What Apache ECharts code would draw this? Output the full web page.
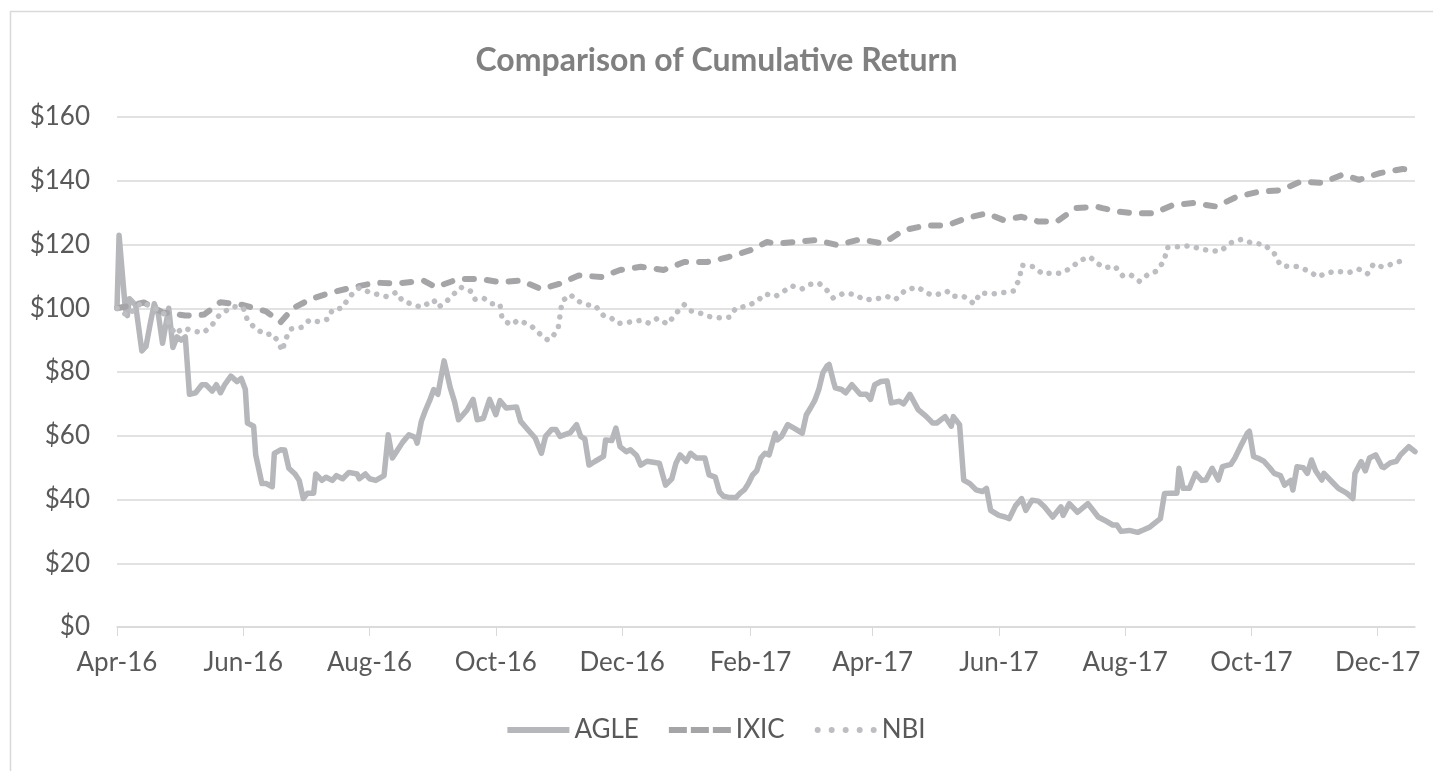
<!DOCTYPE html>
<html>
<head>
<meta charset="utf-8">
<title>Comparison of Cumulative Return</title>
<script src="https://cdn.jsdelivr.net/npm/echarts@6/dist/echarts.min.js"></script>
<style>
  html, body { margin: 0; padding: 0; background: #fff; }
  #main { width: 1433px; height: 771px; }
</style>
</head>
<body>
<div id="main"></div>
<script>
  // dates are kept as day counts after 1 Apr 2016
  const agleDay = [0,1,4,5,6,9,12,14,16,18,20,22,25,27,29,31,33,35,38,41,43,46,48,50,52,55,58,60,62,63,66,67,70,72,75,76,79,81,83,86,88,90,92,95,96,99,101,104,106,109,112,116,117,120,122,125,129,131,133,135,138,141,144,145,147,149,151,153,155,158,161,163,165,169,172,174,177,180,183,185,188,193,195,199,202,205,207,210,212,214,219,222,224,226,228,231,235,236,239,241,243,246,248,251,253,256,262,265,268,270,272,275,277,280,284,286,289,291,293,296,299,301,303,305,307,309,311,313,315,318,319,321,324,327,331,333,335,337,339,341,343,344,346,347,350,352,355,359,362,364,366,369,372,374,378,380,383,387,391,394,396,400,403,404,407,409,412,415,418,420,422,426,429,431,434,437,439,442,445,448,452,456,457,460,464,469,474,477,481,483,485,489,493,496,499,502,504,506,509,512,513,515,518,521,524,526,529,532,534,538,540,543,546,547,549,551,554,557,559,562,564,567,568,570,573,575,577,579,582,583,587,590,594,597,598,601,603,605,608,611,612,615,618,620,624,627];
  const agleVal = [100,122.9,100,97.7,103,101,86.6,88,95,101.4,98,89,100,87.7,91,90,91,73,73.5,76,76,74,76,73.5,76,78.7,77,78,74.5,64,63,54,45,45,44,54.5,55.6,55.5,49.8,48,46,40.3,42,42,48,46,47,46,47.5,46.5,48.5,48,46.5,48,46.5,46,47.5,60.3,53,55,58,60.3,59.5,57.7,64.5,68,71,74.5,73,83.5,75,70.8,65,68,71.4,65,65.5,71.4,66.6,71,68.7,69,64.5,61.5,59.3,54.5,59.8,62,62,59.8,61,63.5,59.8,59,50.8,52,53.5,58.7,58.5,62.4,56.6,55,55.6,53.8,50.8,52,51.4,44.5,46.5,51.4,54,52,54.5,53,53,47.7,47,42.4,41,40.6,40.6,42,43,45,47.7,49,53,54.5,54,60.8,58.7,59.8,63.5,62.4,60.8,66.6,68.7,71,74.5,79.8,81.9,82.4,77.2,75,74.5,73.5,76,73,73,71.4,76,77,77.2,70.3,70.8,70,73,68.2,66,64,64,66,63,66,63.5,46.1,45,43,42.5,43.5,36.6,35,34.5,34,38,40.3,36.6,39.8,39.5,37.7,34.5,37.7,35,38.7,36,38.7,34.5,33.5,32,32,30,30.3,29.7,30.5,31.4,33,34,41.9,42,42,49.8,43.5,43.5,48.2,46,46.1,49.8,46.1,50.3,51,53,57,60.8,61.4,53.5,53,52,49.8,48.2,47.5,44.5,46,43,50.3,50,48.2,52.4,49,46.1,48.2,45.5,43.5,42,40.3,48.2,51.9,49,53,54,50.3,50,51.5,52,54,56.6,55];

  const ixicDay = [0,6,13,22,33,42,50,61,72,79,85,94,104,114,125,136,148,154,165,175,185,195,205,214,223,234,243,253,264,274,285,295,306,314,318,328,338,348,359,370,380,391,401,410,420,428,437,445,454,463,473,476,484,491,501,510,520,531,541,552,562,572,582,592,600,610,621,627];
  const ixicVal = [100,100.8,101.8,98.7,97.7,98,101.9,101,99,95.6,100,103,105,106.6,108,107.8,108.7,106.6,109.2,109.2,108.2,108.7,106,107.7,110.3,109.8,112,113,112,114.5,114.5,116,118.2,120.8,120.3,120.8,121.4,119.8,121.6,120.3,124.5,126,126,128.2,129.8,127.7,128.7,127.2,127.2,131.4,131.9,131.4,130.3,129.8,129.8,132.4,133,131.9,135,136.6,137,139.8,139.3,141.9,140.3,142.4,143.7,143.3];

  const nbiDay = [0,5,12,18,22,28,32,38,42,46,49,54,57,61,63,67,72,75,77,80,81,84,89,93,97,102,104,109,112,117,122,126,130,135,138,142,147,153,155,158,162,166,171,173,177,181,185,186,190,194,200,204,207,209,213,214,215,219,222,227,231,235,239,242,247,253,257,261,266,270,274,277,282,286,292,296,299,304,309,313,318,322,326,331,335,339,343,346,351,356,361,366,372,376,381,387,391,395,401,403,409,414,417,423,428,433,436,437,443,447,451,456,461,465,470,473,477,482,486,490,494,498,502,506,507,513,518,524,529,533,538,543,549,554,559,562,566,570,576,580,584,589,595,600,604,607,611,615,621];
  const nbiVal = [100,97.7,101.9,100,99,91.9,93.8,92.7,92.4,94.8,97.5,99.8,100.5,100.1,96.3,93.5,91.7,92,90.3,86.6,89.8,93.5,94,96.3,95.8,96.6,99.5,100.1,103.5,106.4,105,104.3,103.7,105,102.2,101.4,100.3,102.6,100.3,101.4,104,106.6,105.3,102.8,103.2,101.4,101.2,96.8,94.8,96.3,94.5,92.1,90.3,90,93.3,97.7,102.2,104.3,102.4,101.1,100.8,97.7,96.8,95.2,95.6,96.2,95.3,96.8,95,98.4,101.1,99.2,98.4,97.4,96.9,97.2,100.1,100.6,102.1,104.5,103.7,105.3,107,106.1,107.5,107.9,105.6,103.2,104.7,104.4,102.7,102.8,103.7,102.7,105.8,106.6,104.7,104.1,105.3,103.8,103.7,101.4,104.8,104.5,104.9,105.4,109.3,113.5,113,110.8,111,111,112.7,115,116.1,114.3,112.7,113.2,110,110.3,108.4,110.6,111.6,115,119,119.3,119.6,118.5,118,117.9,120.5,121.6,120.3,120.1,117.2,113.5,113.1,113.1,111.6,109.8,111,111.6,111.2,112.2,110.8,113.9,113,113.7,115];

  // tick months, every two months
  const tickMonths = ['2016-04','2016-06','2016-08','2016-10','2016-12','2017-02','2017-04','2017-06','2017-08','2017-10','2017-12'];
  const monthNames = ['Jan','Feb','Mar','Apr','May','Jun','Jul','Aug','Sep','Oct','Nov','Dec'];

  function dayToTime(d) {
    return new Date(2016, 3, 1 + d).getTime();
  }
  function pairs(days, vals) {
    return days.map((d, i) => [dayToTime(d), vals[i]]);
  }
  const tickTimes = tickMonths.map(m => {
    const p = m.split('-');
    return new Date(+p[0], +p[1] - 1, 1).getTime();
  });

  const font = 'Lato, "Open Sans", sans-serif';

  // legend icons: solid bar, three dashes, five dots (62 x 6)
  const iconSolid = 'path://M0,0H62V6H0Z';
  const iconDash = 'path://M0,0H18V6H0Z M22,0H40V6H22Z M44,0H62V6H44Z';
  const iconDot = 'path://M0,3A3,3,0,1,0,6,3A3,3,0,1,0,0,3Z M14,3A3,3,0,1,0,20,3A3,3,0,1,0,14,3Z M28,3A3,3,0,1,0,34,3A3,3,0,1,0,28,3Z M42,3A3,3,0,1,0,48,3A3,3,0,1,0,42,3Z M56,3A3,3,0,1,0,62,3A3,3,0,1,0,56,3Z';

  let myChart = echarts.init(document.getElementById('main'));
  myChart.setOption({
    animation: false,
    backgroundColor: '#fff',
    title: {
      text: 'Comparison of Cumulative Return',
      left: 'center',
      top: 40,
      textStyle: { color: '#808080', fontSize: 32, fontWeight: 'bold', fontFamily: font }
    },
    grid: { left: 117, right: 18, top: 117, bottom: 144 },
    legend: {
      bottom: 23,
      left: 'center',
      itemWidth: 62,
      itemHeight: 6,
      itemGap: 30,
      textStyle: { color: '#595959', fontSize: 26, fontFamily: font },
      data: [
        { name: 'AGLE', icon: iconSolid },
        { name: 'IXIC', icon: iconDash },
        { name: 'NBI', icon: iconDot }
      ]
    },
    xAxis: {
      type: 'value',
      min: dayToTime(0),
      max: dayToTime(627),
      axisLine: { show: true, lineStyle: { color: '#d9d9d9', width: 1.5 } },
      axisTick: { show: true, length: 9, lineStyle: { color: '#d9d9d9' }, customValues: tickTimes },
      splitLine: { show: false },
      axisLabel: {
        customValues: tickTimes,
        margin: 23,
        color: '#595959',
        fontSize: 26,
        fontFamily: font,
        formatter: function (v) {
          const d = new Date(v);
          return monthNames[d.getMonth()] + '-' + String(d.getFullYear()).slice(2);
        }
      }
    },
    yAxis: {
      type: 'value',
      min: 0,
      max: 160,
      interval: 20,
      axisLine: { show: false },
      axisTick: { show: false },
      splitLine: { lineStyle: { color: '#d9d9d9', width: 1.5 } },
      axisLabel: {
        margin: 27,
        color: '#595959',
        fontSize: 26,
        fontFamily: font,
        formatter: '${value}'
      }
    },
    series: [
      {
        name: 'AGLE',
        type: 'line',
        showSymbol: false,
        symbol: 'none',
        data: pairs(agleDay, agleVal),
        lineStyle: { color: '#b6b7ba', width: 5.5, join: 'round', cap: 'round' },
        itemStyle: { color: '#b6b7ba' }
      },
      {
        name: 'IXIC',
        type: 'line',
        showSymbol: false,
        symbol: 'none',
        data: pairs(ixicDay, ixicVal),
        lineStyle: { color: '#a5a5a8', width: 6, type: [9, 13], cap: 'round', join: 'round' },
        itemStyle: { color: '#a5a5a8' }
      },
      {
        name: 'NBI',
        type: 'line',
        showSymbol: false,
        symbol: 'none',
        data: pairs(nbiDay, nbiVal),
        lineStyle: { color: '#bdbec1', width: 5.5, type: [0.1, 9.5], cap: 'round', join: 'round' },
        itemStyle: { color: '#bdbec1' }
      }
    ],
    graphic: [{
      type: 'rect',
      silent: true,
      shape: { x: 10.5, y: 11.5, width: 1440, height: 800 },
      style: { fill: 'none', stroke: '#d9d9d9', lineWidth: 1.5 }
    }]
  });
</script>
</body>
</html>
